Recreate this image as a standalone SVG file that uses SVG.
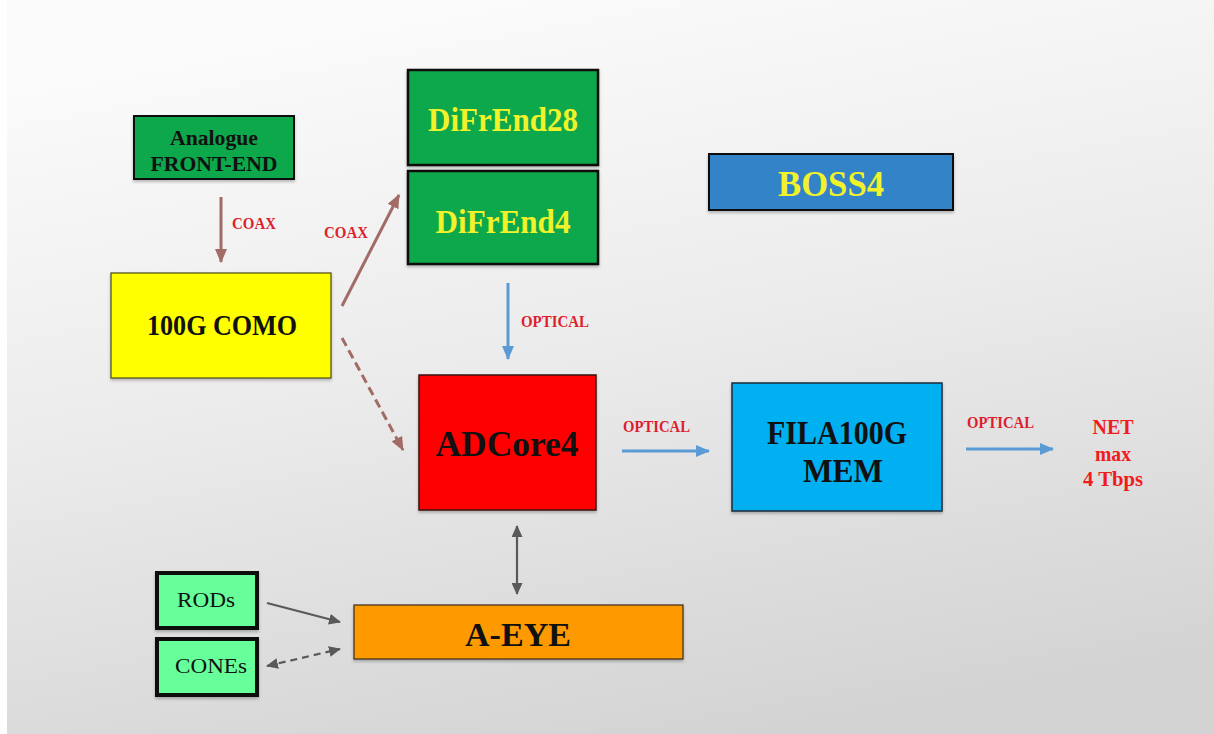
<svg xmlns="http://www.w3.org/2000/svg" width="1214" height="734" viewBox="0 0 1214 734">
  <defs>
    <linearGradient id="bg" x1="0.35" y1="0" x2="0.65" y2="1">
      <stop offset="0" stop-color="#fbfbfb"/>
      <stop offset="0.45" stop-color="#ececec"/>
      <stop offset="1" stop-color="#d3d3d3"/>
    </linearGradient>
    <filter id="sh" x="-10%" y="-10%" width="120%" height="130%">
      <feDropShadow dx="0" dy="2" stdDeviation="1.5" flood-color="#000" flood-opacity="0.25"/>
    </filter>
    <marker id="ahBrown" markerUnits="userSpaceOnUse" markerWidth="14" markerHeight="12" refX="13" refY="6" orient="auto">
      <path d="M0,0 L14,6 L0,12 z" fill="#a26b66"/>
    </marker>
    <marker id="ahBlue" markerUnits="userSpaceOnUse" markerWidth="14" markerHeight="12" refX="13" refY="6" orient="auto">
      <path d="M0,0 L14,6 L0,12 z" fill="#5b9bd5"/>
    </marker>
    <marker id="ahGrey" markerUnits="userSpaceOnUse" markerWidth="12" markerHeight="11" refX="11" refY="5.5" orient="auto-start-reverse">
      <path d="M0,0 L12,5.5 L0,11 z" fill="#595959"/>
    </marker>
  </defs>
  <style>
    .box { stroke: #111; }
    .t { font-family: "Liberation Serif", "Times New Roman", serif; font-weight: bold; text-anchor: middle; }
    .reg { font-family: "Liberation Serif", "Times New Roman", serif; font-weight: normal; text-anchor: middle; fill: #111; }
    .lbl { font-family: "Liberation Serif", "Times New Roman", serif; font-weight: bold; fill: #dd1f2d; font-size: 17px; }
    .brown { stroke: #a26b66; stroke-width: 3; fill: none; }
    .blue { stroke: #5b9bd5; stroke-width: 3; fill: none; }
    .grey { stroke: #595959; stroke-width: 2.2; fill: none; }
  </style>

  <rect x="0" y="0" width="1214" height="734" fill="#ffffff"/>
  <rect x="7" y="0" width="1207" height="734" fill="url(#bg)"/>

  <g id="connectors">
    <line class="brown" x1="221" y1="197" x2="221" y2="262" marker-end="url(#ahBrown)"/>
    <text class="lbl" x="232" y="229" font-size="18" textLength="44" lengthAdjust="spacingAndGlyphs">COAX</text>
    <line class="brown" x1="342" y1="306" x2="399" y2="195" marker-end="url(#ahBrown)"/>
    <text class="lbl" x="324" y="238" font-size="18" textLength="44" lengthAdjust="spacingAndGlyphs">COAX</text>
    <line class="brown" x1="342" y1="338" x2="403" y2="450" stroke-width="3.5" stroke-dasharray="9 5" marker-end="url(#ahBrown)"/>
    <line class="blue" x1="508" y1="283" x2="508" y2="359" marker-end="url(#ahBlue)"/>
    <text class="lbl" x="521" y="327" textLength="68" lengthAdjust="spacingAndGlyphs">OPTICAL</text>
    <line class="blue" x1="622" y1="451" x2="709" y2="451" marker-end="url(#ahBlue)"/>
    <text class="lbl" x="623" y="432" textLength="67" lengthAdjust="spacingAndGlyphs">OPTICAL</text>
    <line class="blue" x1="966" y1="449" x2="1053" y2="449" marker-end="url(#ahBlue)"/>
    <text class="lbl" x="967" y="428" textLength="67" lengthAdjust="spacingAndGlyphs">OPTICAL</text>
    <line class="grey" x1="517" y1="526" x2="517" y2="594" marker-start="url(#ahGrey)" marker-end="url(#ahGrey)"/>
    <line class="grey" x1="267" y1="603" x2="340" y2="622" marker-end="url(#ahGrey)"/>
    <line class="grey" x1="267" y1="666" x2="340" y2="649" stroke-dasharray="7 5" marker-start="url(#ahGrey)" marker-end="url(#ahGrey)"/>
  </g>

  <g id="analogue">
    <rect class="box" x="134" y="116" width="160" height="63" fill="#0ba84b" stroke-width="2" filter="url(#sh)"/>
    <text class="t" x="214" y="145" font-size="22" fill="#111" textLength="88" lengthAdjust="spacingAndGlyphs">Analogue</text>
    <text class="t" x="214" y="171" font-size="22" fill="#111" textLength="127" lengthAdjust="spacingAndGlyphs">FRONT-END</text>
  </g>

  <g id="difrend28">
    <rect class="box" x="408" y="70" width="190" height="95" fill="#0ba84b" stroke-width="2.5" filter="url(#sh)"/>
    <text class="t" x="503" y="131" font-size="33" fill="#f2f22a" textLength="150" lengthAdjust="spacingAndGlyphs">DiFrEnd28</text>
  </g>

  <g id="difrend4">
    <rect class="box" x="408" y="171" width="190" height="93" fill="#0ba84b" stroke-width="2.5" filter="url(#sh)"/>
    <text class="t" x="503" y="233" font-size="33" fill="#f2f22a" textLength="135" lengthAdjust="spacingAndGlyphs">DiFrEnd4</text>
  </g>

  <g id="boss4">
    <rect class="box" x="709" y="154" width="244" height="56" fill="#3083c8" stroke-width="2" filter="url(#sh)"/>
    <text class="t" x="831" y="196" font-size="35" fill="#f2f22a" textLength="106" lengthAdjust="spacingAndGlyphs">BOSS4</text>
  </g>

  <g id="como">
    <rect x="111" y="273" width="220" height="105" fill="#ffff00" stroke="#4a4a1a" stroke-width="1.2" filter="url(#sh)"/>
    <text class="t" x="222" y="335" font-size="29" fill="#111" textLength="150" lengthAdjust="spacingAndGlyphs">100G COMO</text>
  </g>

  <g id="adcore4">
    <rect x="419" y="375" width="177" height="135" fill="#ff0000" stroke="#3a1010" stroke-width="1.5" filter="url(#sh)"/>
    <text class="t" x="507" y="456" font-size="36" fill="#111" textLength="143" lengthAdjust="spacingAndGlyphs">ADCore4</text>
  </g>

  <g id="fila100g">
    <rect x="732" y="383" width="210" height="128" fill="#00b0f0" stroke="#1a2a3a" stroke-width="1.5" filter="url(#sh)"/>
    <text class="t" x="837" y="444" font-size="33" fill="#111" textLength="140" lengthAdjust="spacingAndGlyphs">FILA100G</text>
    <text class="t" x="843" y="482" font-size="33" fill="#111" textLength="80" lengthAdjust="spacingAndGlyphs">MEM</text>
  </g>

  <g id="net">
    <text class="t" x="1113" y="434" font-size="21" fill="#f01c1c" textLength="41" lengthAdjust="spacingAndGlyphs">NET</text>
    <text class="t" x="1113" y="461" font-size="21" fill="#f01c1c" textLength="36" lengthAdjust="spacingAndGlyphs">max</text>
    <text class="t" x="1113" y="486" font-size="21" fill="#f01c1c" textLength="60" lengthAdjust="spacingAndGlyphs">4 Tbps</text>
  </g>

  <g id="aeye">
    <rect x="354" y="605" width="329" height="54" fill="#ff9900" stroke="#3a2a10" stroke-width="1.2" filter="url(#sh)"/>
    <text class="t" x="518" y="646" font-size="33" fill="#111" textLength="106" lengthAdjust="spacingAndGlyphs">A-EYE</text>
  </g>

  <g id="rods">
    <rect x="157" y="573" width="100" height="55" fill="#66ff99" stroke="#111" stroke-width="4" filter="url(#sh)"/>
    <text class="reg" x="206" y="607" font-size="22" textLength="58" lengthAdjust="spacingAndGlyphs">RODs</text>
  </g>

  <g id="cones">
    <rect x="157" y="639" width="100" height="56" fill="#66ff99" stroke="#111" stroke-width="4" filter="url(#sh)"/>
    <text class="reg" x="211" y="673" font-size="22" textLength="72" lengthAdjust="spacingAndGlyphs">CONEs</text>
  </g>
</svg>
